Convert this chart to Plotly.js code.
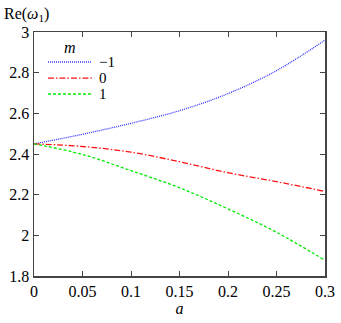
<!DOCTYPE html>
<html>
<head>
<meta charset="utf-8">
<script src="https://cdn.plot.ly/plotly-3.0.1.min.js"></script>
<style>
  body { margin: 0; padding: 0; background: #fff; }
  #chart { width: 341px; height: 323px; }
</style>
</head>
<body>
<div id="chart"></div>
<script>
// значення
var aValues = [0, 0.05, 0.1, 0.15, 0.2, 0.25, 0.3];
var reMinus1 = [2.45, 2.497, 2.551, 2.613, 2.697, 2.81, 2.96];
var reZero = [2.45, 2.437, 2.409, 2.362, 2.308, 2.264, 2.216];
var rePlus1 = [2.45, 2.398, 2.318, 2.234, 2.13, 2.015, 1.877];
var seriesNames = ["\u22121", "0", "1"];
var seriesColors = ['rgb(50,50,255)', 'rgb(255,20,20)', 'rgb(0,235,0)'];
var seriesDash = ['1px,1px', '6px,2px,1.5px,2px', '3px,2px'];

var serif = "Times New Roman, Times, Tinos, Nimbus Roman, serif";

function makeTrace(y, i) {
	return {
		x: aValues,
		y: y,
		name: seriesNames[i],
		type: 'scatter',
		mode: 'lines',
		line: { color: seriesColors[i], width: 1.3, dash: seriesDash[i], shape: 'spline' }
	};
}

var data = [makeTrace(reMinus1, 0), makeTrace(reZero, 1), makeTrace(rePlus1, 2)];

// легенда вручну (щоб рядки були щільніше)
var shapes = [];
var annotations = [];
var legendRows = [0.877, 0.811, 0.746];
for (var i = 0; i < seriesNames.length; i++) {
	shapes.push({
		type: 'line', xref: 'paper', yref: 'paper',
		x0: 0.048, x1: 0.199, y0: legendRows[i], y1: legendRows[i],
		line: { color: seriesColors[i], width: 1.3, dash: seriesDash[i] }
	});
	annotations.push({
		text: seriesNames[i], xref: 'paper', yref: 'paper',
		x: 0.218, y: legendRows[i], xanchor: 'left', yanchor: 'middle',
		showarrow: false, font: { family: serif, size: 15 }
	});
}
annotations.push({
	text: '<i>m</i>', xref: 'paper', yref: 'paper',
	x: 0.124, y: 0.936, xanchor: 'center', yanchor: 'middle',
	showarrow: false, font: { family: serif, size: 16 }
});
annotations.push({
	text: 'Re(<i>ω</i><sub>1</sub>)',
	xref: 'paper', yref: 'paper',
	x: 0, y: 1,
	xshift: -32, yshift: 18,
	xanchor: 'left', yanchor: 'middle',
	showarrow: false,
	font: { family: serif, size: 16 }
});

var axisStyle = {
	showgrid: false,
	zeroline: false,
	showline: true,
	linecolor: '#444',
	linewidth: 1.5,
	mirror: 'ticks',
	ticks: 'inside',
	ticklen: 5,
	tickwidth: 1,
	tickcolor: '#444',
	tickfont: { family: serif, size: 16, color: '#000' }
};

var layout = {
	width: 341,
	height: 323,
	margin: { l: 34, r: 16, t: 32, b: 47 },
	paper_bgcolor: '#fff',
	plot_bgcolor: '#fff',
	font: { family: serif, size: 16, color: '#000' },
	showlegend: false,
	xaxis: Object.assign({}, axisStyle, {
		range: [0, 0.3],
		tickvals: [0, 0.05, 0.1, 0.15, 0.2, 0.25, 0.3],
		ticktext: ['0', '0.05', '0.1', '0.15', '0.2', '0.25', '0.3'],
		title: { text: '<i>a</i>', font: { family: serif, size: 16 }, standoff: 2 }
	}),
	yaxis: Object.assign({}, axisStyle, {
		range: [1.8, 3],
		tickvals: [1.8, 2, 2.2, 2.4, 2.6, 2.8, 3],
		ticktext: ['1.8', '2', '2.2', '2.4', '2.6', '2.8', '3']
	}),
	shapes: shapes,
	annotations: annotations
};

Plotly.newPlot('chart', data, layout, { displayModeBar: false, staticPlot: true });
</script>
</body>
</html>
